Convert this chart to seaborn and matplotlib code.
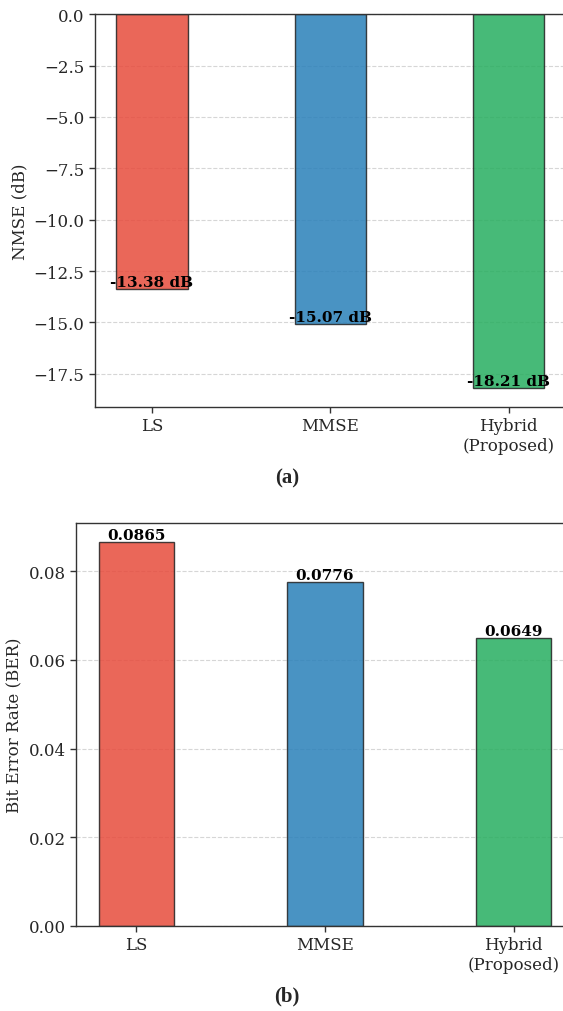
import matplotlib
matplotlib.use("Agg")
import matplotlib.pyplot as plt
import seaborn as sns
import pandas as pd

# Channel estimation methods and their measured performance
methods = ["LS", "MMSE", "Hybrid\n(Proposed)"]
nmse_db = [-13.38, -15.07, -18.21]
ber = [0.0865, 0.0776, 0.0649]
bar_colors = ["#e74c3c", "#2980b9", "#27ae60"]

sns.set_style("white")
plt.rcParams["font.family"] = ["DejaVu Serif"]
plt.rcParams["axes.edgecolor"] = "#333333"
plt.rcParams["axes.linewidth"] = 1.0

fig = plt.figure(figsize=(5.63, 10.12), dpi=100)
ax_a = fig.add_axes([0.1687, 0.5968, 0.8363, 0.3882])
ax_b = fig.add_axes([0.135, 0.0840, 0.8845, 0.3982])

df = pd.DataFrame({"method": methods, "nmse": nmse_db, "ber": ber})
palette = dict(zip(methods, bar_colors))


def draw_panel(ax, col, ylabel, fmt):
    sns.barplot(data=df, x="method", y=col, hue="method", palette=palette,
                width=0.4, alpha=0.85, saturation=1, edgecolor="#222222",
                linewidth=1.0, legend=False, ax=ax)
    for i, v in enumerate(df[col]):
        ax.text(i, v, fmt(v), ha="center", va="bottom", fontsize=11,
                fontweight="bold", color="black")
    ax.set_xlim(-0.32, 2.32)
    ax.set_xlabel("")
    ax.set_ylabel(ylabel, fontsize=12)
    ax.yaxis.grid(True, linestyle="--", color="#cccccc", linewidth=0.8, alpha=0.8)
    ax.set_axisbelow(True)
    ax.tick_params(axis="both", labelsize=12, length=4, width=1,
                   color="#333333", direction="out", left=True, bottom=True)
    for s in ax.spines.values():
        s.set_visible(True)


draw_panel(ax_a, "nmse", "NMSE (dB)", lambda v: f"{v:.2f} dB")
ax_a.set_ylim(min(nmse_db) * 1.05, 0)
ax_a.set_yticks([0, -2.5, -5, -7.5, -10, -12.5, -15, -17.5])

draw_panel(ax_b, "ber", "Bit Error Rate (BER)", lambda v: f"{v:.4f}")
ax_b.set_ylim(0, max(ber) * 1.05)
ax_b.set_yticks([0, 0.02, 0.04, 0.06, 0.08])

# Sub-figure captions
fig.text(0.51, 1 - 478 / 1012, "(a)", ha="center", va="center",
         fontsize=15, fontweight="bold", family=["Liberation Serif"])
fig.text(0.51, 1 - 996 / 1012, "(b)", ha="center", va="center",
         fontsize=15, fontweight="bold", family=["Liberation Serif"])

fig.savefig("out.png", dpi=100)
